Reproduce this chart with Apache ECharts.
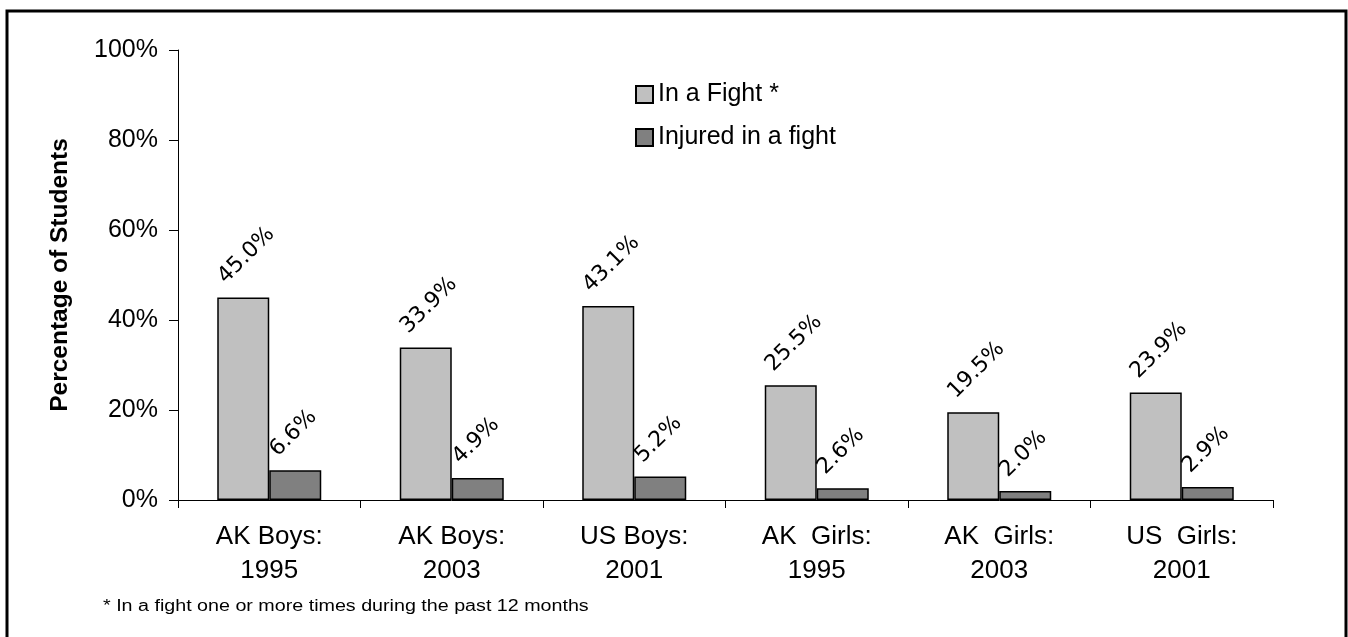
<!DOCTYPE html>
<html>
<head>
<meta charset="utf-8">
<script src="https://cdn.jsdelivr.net/npm/echarts@6/dist/echarts.min.js"></script>
<style>
  html, body { margin: 0; padding: 0; background: #fff; }
  #chart { width: 1348px; height: 637px; }
</style>
</head>
<body>
<div id="chart"></div>
<script>
const categories = ['AK Boys:\n1995', 'AK Boys:\n2003', 'US Boys:\n2001', 'AK  Girls:\n1995', 'AK  Girls:\n2003', 'US  Girls:\n2001']
const inFight = [45.0, 33.9, 43.1, 25.5, 19.5, 23.9]
const injured = [6.6, 4.9, 5.2, 2.6, 2.0, 2.9]
const yTicks = [0, 20, 40, 60, 80, 100]

const chart = echarts.init(document.getElementById('chart'))

const valueLabel = {
    show: true,
    position: 'top',
    distance: 5,
    rotate: 45,
    align: 'left',
    verticalAlign: 'bottom',
    offset: [-6.5, -13],
    fontFamily: 'DejaVu Sans',
    fontSize: 22,
    color: '#000',
    formatter: p => p.value.toFixed(1) + '%'
}

const option = {
    animation: false,
    backgroundColor: '#fff',
    grid: { left: 178, right: 75, top: 50, bottom: 137 },
    legend: {
        orient: 'vertical',
        left: 635,
        top: 82,
        padding: 0,
        itemWidth: 17,
        itemHeight: 17,
        itemGap: 18,
        icon: 'rect',
        textStyle: { fontFamily: 'Liberation Sans', fontSize: 25, color: '#000' },
        data: ['In a Fight *', 'Injured in a fight']
    },
    xAxis: {
        type: 'category',
        data: categories,
        axisLine: { lineStyle: { color: '#000', width: 1 } },
        axisTick: { show: true, length: 8, lineStyle: { color: '#000' } },
        axisLabel: { color: '#000', fontFamily: 'Liberation Sans', fontSize: 26, lineHeight: 34, margin: 20 }
    },
    yAxis: {
        type: 'value',
        min: 0,
        max: 100,
        interval: 20,
        name: 'Percentage of Students',
        nameLocation: 'middle',
        nameGap: 105,
        nameTextStyle: { fontFamily: 'Liberation Sans', fontWeight: 'bold', fontSize: 24.5, color: '#000' },
        axisLine: { show: true, lineStyle: { color: '#000', width: 1 } },
        axisTick: { show: true, length: 9, lineStyle: { color: '#000' } },
        splitLine: { show: false },
        axisLabel: {
            color: '#000', fontFamily: 'Liberation Sans', fontSize: 25, margin: 20,
            formatter: v => yTicks.includes(v) ? v + '%' : ''
        }
    },
    series: [
        {
            name: 'In a Fight *',
            type: 'bar',
            data: inFight,
            barWidth: 52,
            barGap: '0%',
            itemStyle: { color: '#c0c0c0', borderColor: '#000', borderWidth: 1.5 },
            label: valueLabel
        },
        {
            name: 'Injured in a fight',
            type: 'bar',
            data: injured,
            barWidth: 52,
            barGap: '0%',
            itemStyle: { color: '#808080', borderColor: '#000', borderWidth: 1.5 },
            label: valueLabel
        }
    ],
    graphic: [
        {
            type: 'rect',
            shape: { x: 7, y: 11, width: 1339, height: 640 },
            style: { fill: 'none', stroke: '#000', lineWidth: 3 },
            silent: true
        },
        {
            type: 'text',
            x: 103,
            y: 607,
            scaleX: 1.23,
            style: {
                text: '* In a fight one or more times during the past 12 months',
                fontFamily: 'Liberation Sans', fontSize: 16, fill: '#000',
                align: 'left', verticalAlign: 'middle'
            }
        }
    ]
}

chart.setOption(option)
</script>
</body>
</html>
